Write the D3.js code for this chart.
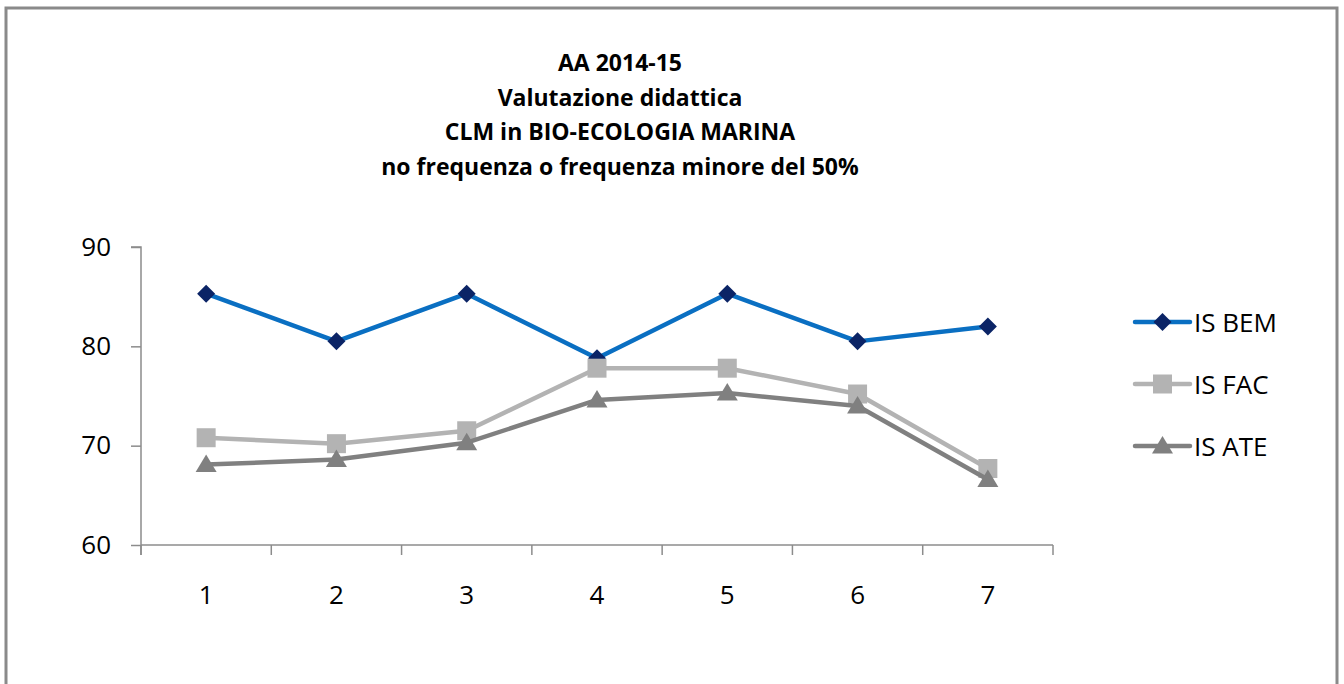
<!DOCTYPE html>
<html>
<head>
<meta charset="utf-8">
<script src="https://cdn.jsdelivr.net/npm/d3@7"></script>
<style>
  body { margin: 0; background: #fff; }
  svg text { font-family: "Open Sans", sans-serif; fill: #000; }
</style>
</head>
<body>
<svg id="chart" width="1344" height="684"></svg>
<script>
// chart data
var categories = ["1", "2", "3", "4", "5", "6", "7"];
var seriesNames = ["IS BEM", "IS FAC", "IS ATE"];
var isBem = [85.3, 80.5, 85.3, 78.8, 85.3, 80.5, 82.0];
var isFac = [70.8, 70.2, 71.5, 77.8, 77.8, 75.2, 67.7];
var isAte = [68.1, 68.6, 70.3, 74.6, 75.3, 74.0, 66.6];
var yTicks = [60, 70, 80, 90];
var titleLines = ["AA 2014-15", "Valutazione didattica",
	"CLM in BIO-ECOLOGIA MARINA", "no frequenza o frequenza minore del 50%"];

var svg = d3.select("#chart");

// outer frame (bottom edge runs off the picture)
svg.append("path")
	.attr("d", "M6,690 L6,8 L1337,8 L1337,690")
	.attr("fill", "none")
	.attr("stroke", "#8a8a8a")
	.attr("stroke-width", 3);

// title
svg.append("g").selectAll("text")
	.data(titleLines)
	.join("text")
	.attr("x", 620)
	.attr("y", function (d, i) { return 71 + i * 34.6; })
	.attr("text-anchor", "middle")
	.attr("font-size", 23)
	.attr("font-weight", "bold")
	.text(function (d) { return d; });

var x = d3.scaleBand().domain(categories).range([141, 1053]);
var y = d3.scaleLinear().domain([60, 90]).range([545, 247]);

// axes
var yAxis = svg.append("g")
	.attr("transform", "translate(141,0)")
	.call(d3.axisLeft(y).tickValues(yTicks).tickSize(10).tickPadding(20));
var xAxis = svg.append("g")
	.attr("transform", "translate(0,545)")
	.call(d3.axisBottom(x).tickSize(0).tickPadding(41));

// category boundary ticks (excel style: between categories)
xAxis.selectAll("line.bound")
	.data(d3.range(categories.length + 1))
	.join("line")
	.attr("class", "bound")
	.attr("x1", function (i) { return 141 + i * x.step(); })
	.attr("x2", function (i) { return 141 + i * x.step(); })
	.attr("y1", 0).attr("y2", 10);

[yAxis, xAxis].forEach(function (g) {
	g.attr("font-size", 26).attr("font-family", "'Open Sans', sans-serif");
	g.selectAll("path.domain").attr("stroke", "#8c8c8c").attr("stroke-width", 1.5);
	g.selectAll("line").attr("stroke", "#8c8c8c").attr("stroke-width", 1.5);
	g.selectAll("text").attr("fill", "#000");
});
xAxis.select("path.domain").attr("d", "M141,0H1053");
yAxis.select("path.domain").attr("d", "M0,555V247H-10");

var series = [
	{ name: seriesNames[0], values: isBem, line: "#0a6fc2", mark: "#0b2466", shape: "diamond" },
	{ name: seriesNames[1], values: isFac, line: "#b3b3b3", mark: "#b3b3b3", shape: "square" },
	{ name: seriesNames[2], values: isAte, line: "#808080", mark: "#808080", shape: "triangle" }
];

function markerPath(shape) {
	if (shape === "diamond") return "M0,-9L9,0L0,9L-9,0Z";
	if (shape === "square") return "M-9.5,-9.5H9.5V9.5H-9.5Z";
	return "M0,-10L10.5,7.5H-10.5Z";
}

var line = d3.line()
	.x(function (d, i) { return x(categories[i]) + x.bandwidth() / 2; })
	.y(function (d) { return y(d); });

series.forEach(function (s) {
	var g = svg.append("g");
	g.append("path")
		.attr("d", line(s.values))
		.attr("fill", "none")
		.attr("stroke", s.line)
		.attr("stroke-width", 4.5)
		.attr("stroke-linejoin", "round");
	g.selectAll("path.mk")
		.data(s.values)
		.join("path")
		.attr("class", "mk")
		.attr("transform", function (d, i) {
			return "translate(" + (x(categories[i]) + x.bandwidth() / 2) + "," + y(d) + ")";
		})
		.attr("d", markerPath(s.shape))
		.attr("fill", s.mark);
});

// legend
var legend = svg.append("g").selectAll("g")
	.data(series)
	.join("g")
	.attr("transform", function (d, i) { return "translate(1135," + (322 + i * 62) + ")"; });
legend.append("line")
	.attr("x1", 0).attr("x2", 55)
	.attr("stroke", function (d) { return d.line; })
	.attr("stroke-width", 4.5)
	.attr("stroke-linecap", "round");
legend.append("path")
	.attr("transform", "translate(27.5,0)")
	.attr("d", function (d) { return markerPath(d.shape); })
	.attr("fill", function (d) { return d.mark; });
legend.append("text")
	.attr("x", 59)
	.attr("y", 9.5)
	.attr("font-size", 26)
	.text(function (d) { return d.name; });
</script>
</body>
</html>
